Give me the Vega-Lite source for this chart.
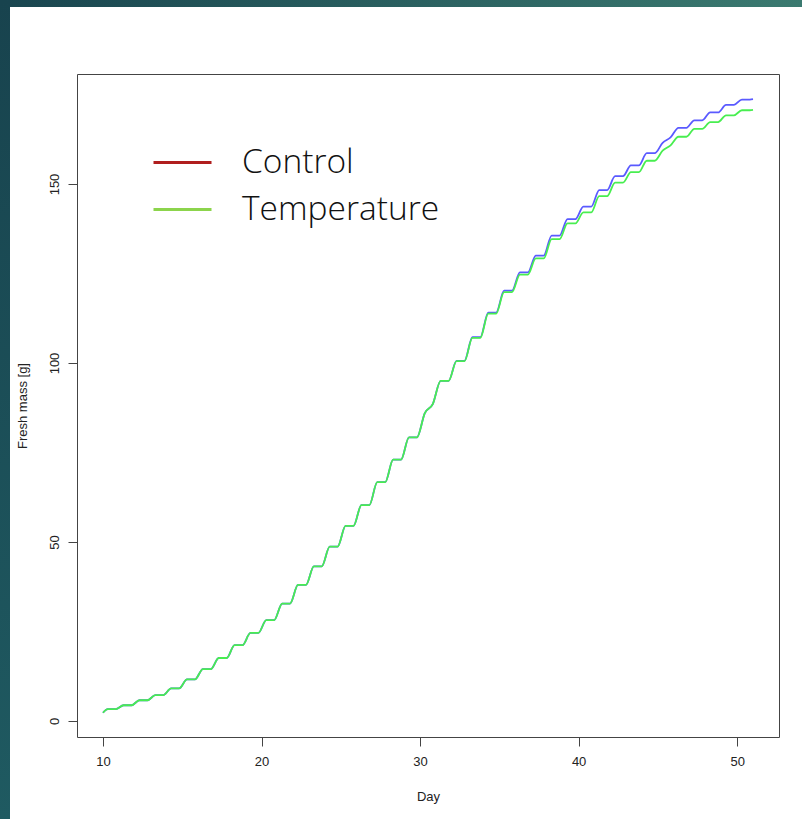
{
  "$schema": "https://vega.github.io/schema/vega-lite/v6.json",
  "width": 702,
  "height": 663,
  "autosize": {"type": "none"},
  "padding": {"left": 77, "top": 74, "right": 23, "bottom": 82},
  "background": "white",
  "config": {
    "view": {"stroke": "#444444", "strokeWidth": 1},
    "axis": {
      "grid": false,
      "domain": false,
      "tickColor": "#444444",
      "tickSize": 9,
      "labelFont": "Liberation Sans",
      "labelFontSize": 13,
      "labelColor": "#222222",
      "titleFont": "Liberation Sans",
      "titleFontSize": 13,
      "titleFontWeight": "normal",
      "titleColor": "#222222"
    }
  },
  "datasets": {
    "growth": [
      {"day": 10.0, "mass": 2.3, "series": "Control"},
      {"day": 10.3, "mass": 3.3, "series": "Control"},
      {"day": 10.8, "mass": 3.3, "series": "Control"},
      {"day": 11.3, "mass": 4.4, "series": "Control"},
      {"day": 11.8, "mass": 4.4, "series": "Control"},
      {"day": 12.3, "mass": 5.8, "series": "Control"},
      {"day": 12.8, "mass": 5.8, "series": "Control"},
      {"day": 13.3, "mass": 7.2, "series": "Control"},
      {"day": 13.8, "mass": 7.2, "series": "Control"},
      {"day": 14.3, "mass": 9.1, "series": "Control"},
      {"day": 14.8, "mass": 9.1, "series": "Control"},
      {"day": 15.3, "mass": 11.6, "series": "Control"},
      {"day": 15.8, "mass": 11.6, "series": "Control"},
      {"day": 16.3, "mass": 14.5, "series": "Control"},
      {"day": 16.8, "mass": 14.5, "series": "Control"},
      {"day": 17.3, "mass": 17.6, "series": "Control"},
      {"day": 17.8, "mass": 17.6, "series": "Control"},
      {"day": 18.3, "mass": 21.2, "series": "Control"},
      {"day": 18.8, "mass": 21.2, "series": "Control"},
      {"day": 19.3, "mass": 24.6, "series": "Control"},
      {"day": 19.8, "mass": 24.6, "series": "Control"},
      {"day": 20.3, "mass": 28.2, "series": "Control"},
      {"day": 20.8, "mass": 28.2, "series": "Control"},
      {"day": 21.3, "mass": 32.8, "series": "Control"},
      {"day": 21.8, "mass": 32.8, "series": "Control"},
      {"day": 22.3, "mass": 38.0, "series": "Control"},
      {"day": 22.8, "mass": 38.0, "series": "Control"},
      {"day": 23.3, "mass": 43.2, "series": "Control"},
      {"day": 23.8, "mass": 43.2, "series": "Control"},
      {"day": 24.3, "mass": 48.7, "series": "Control"},
      {"day": 24.8, "mass": 48.7, "series": "Control"},
      {"day": 25.3, "mass": 54.5, "series": "Control"},
      {"day": 25.8, "mass": 54.5, "series": "Control"},
      {"day": 26.3, "mass": 60.3, "series": "Control"},
      {"day": 26.8, "mass": 60.3, "series": "Control"},
      {"day": 27.3, "mass": 66.7, "series": "Control"},
      {"day": 27.8, "mass": 66.7, "series": "Control"},
      {"day": 28.3, "mass": 73.0, "series": "Control"},
      {"day": 28.8, "mass": 73.0, "series": "Control"},
      {"day": 29.3, "mass": 79.2, "series": "Control"},
      {"day": 29.8, "mass": 79.2, "series": "Control"},
      {"day": 30.3, "mass": 86.0, "series": "Control"},
      {"day": 30.8, "mass": 88.5, "series": "Control"},
      {"day": 31.3, "mass": 95.0, "series": "Control"},
      {"day": 31.8, "mass": 95.0, "series": "Control"},
      {"day": 32.3, "mass": 100.6, "series": "Control"},
      {"day": 32.8, "mass": 100.6, "series": "Control"},
      {"day": 33.3, "mass": 107.2, "series": "Control"},
      {"day": 33.8, "mass": 107.2, "series": "Control"},
      {"day": 34.3, "mass": 114.1, "series": "Control"},
      {"day": 34.8, "mass": 114.1, "series": "Control"},
      {"day": 35.3, "mass": 120.2, "series": "Control"},
      {"day": 35.8, "mass": 120.2, "series": "Control"},
      {"day": 36.3, "mass": 125.3, "series": "Control"},
      {"day": 36.8, "mass": 125.3, "series": "Control"},
      {"day": 37.3, "mass": 130.0, "series": "Control"},
      {"day": 37.8, "mass": 130.0, "series": "Control"},
      {"day": 38.3, "mass": 135.6, "series": "Control"},
      {"day": 38.8, "mass": 135.6, "series": "Control"},
      {"day": 39.3, "mass": 140.2, "series": "Control"},
      {"day": 39.8, "mass": 140.2, "series": "Control"},
      {"day": 40.3, "mass": 143.7, "series": "Control"},
      {"day": 40.8, "mass": 143.7, "series": "Control"},
      {"day": 41.3, "mass": 148.3, "series": "Control"},
      {"day": 41.8, "mass": 148.3, "series": "Control"},
      {"day": 42.3, "mass": 152.2, "series": "Control"},
      {"day": 42.8, "mass": 152.2, "series": "Control"},
      {"day": 43.3, "mass": 155.2, "series": "Control"},
      {"day": 43.8, "mass": 155.2, "series": "Control"},
      {"day": 44.3, "mass": 158.6, "series": "Control"},
      {"day": 44.8, "mass": 158.6, "series": "Control"},
      {"day": 45.3, "mass": 161.5, "series": "Control"},
      {"day": 45.8, "mass": 163.0, "series": "Control"},
      {"day": 46.3, "mass": 165.7, "series": "Control"},
      {"day": 46.8, "mass": 165.7, "series": "Control"},
      {"day": 47.3, "mass": 167.8, "series": "Control"},
      {"day": 47.8, "mass": 167.8, "series": "Control"},
      {"day": 48.3, "mass": 170.0, "series": "Control"},
      {"day": 48.8, "mass": 170.0, "series": "Control"},
      {"day": 49.3, "mass": 172.1, "series": "Control"},
      {"day": 49.8, "mass": 172.1, "series": "Control"},
      {"day": 50.3, "mass": 173.6, "series": "Control"},
      {"day": 50.8, "mass": 173.6, "series": "Control"},
      {"day": 51.0, "mass": 173.7, "series": "Control"},
      {"day": 10.0, "mass": 2.3, "series": "Temperature"},
      {"day": 10.3, "mass": 3.3, "series": "Temperature"},
      {"day": 10.8, "mass": 3.3, "series": "Temperature"},
      {"day": 11.3, "mass": 4.4, "series": "Temperature"},
      {"day": 11.8, "mass": 4.4, "series": "Temperature"},
      {"day": 12.3, "mass": 5.8, "series": "Temperature"},
      {"day": 12.8, "mass": 5.8, "series": "Temperature"},
      {"day": 13.3, "mass": 7.2, "series": "Temperature"},
      {"day": 13.8, "mass": 7.2, "series": "Temperature"},
      {"day": 14.3, "mass": 9.1, "series": "Temperature"},
      {"day": 14.8, "mass": 9.1, "series": "Temperature"},
      {"day": 15.3, "mass": 11.6, "series": "Temperature"},
      {"day": 15.8, "mass": 11.6, "series": "Temperature"},
      {"day": 16.3, "mass": 14.5, "series": "Temperature"},
      {"day": 16.8, "mass": 14.5, "series": "Temperature"},
      {"day": 17.3, "mass": 17.6, "series": "Temperature"},
      {"day": 17.8, "mass": 17.6, "series": "Temperature"},
      {"day": 18.3, "mass": 21.2, "series": "Temperature"},
      {"day": 18.8, "mass": 21.2, "series": "Temperature"},
      {"day": 19.3, "mass": 24.6, "series": "Temperature"},
      {"day": 19.8, "mass": 24.6, "series": "Temperature"},
      {"day": 20.3, "mass": 28.2, "series": "Temperature"},
      {"day": 20.8, "mass": 28.2, "series": "Temperature"},
      {"day": 21.3, "mass": 32.8, "series": "Temperature"},
      {"day": 21.8, "mass": 32.8, "series": "Temperature"},
      {"day": 22.3, "mass": 38.0, "series": "Temperature"},
      {"day": 22.8, "mass": 38.0, "series": "Temperature"},
      {"day": 23.3, "mass": 43.2, "series": "Temperature"},
      {"day": 23.8, "mass": 43.2, "series": "Temperature"},
      {"day": 24.3, "mass": 48.7, "series": "Temperature"},
      {"day": 24.8, "mass": 48.7, "series": "Temperature"},
      {"day": 25.3, "mass": 54.5, "series": "Temperature"},
      {"day": 25.8, "mass": 54.5, "series": "Temperature"},
      {"day": 26.3, "mass": 60.3, "series": "Temperature"},
      {"day": 26.8, "mass": 60.3, "series": "Temperature"},
      {"day": 27.3, "mass": 66.7, "series": "Temperature"},
      {"day": 27.8, "mass": 66.7, "series": "Temperature"},
      {"day": 28.3, "mass": 73.0, "series": "Temperature"},
      {"day": 28.8, "mass": 73.0, "series": "Temperature"},
      {"day": 29.3, "mass": 79.2, "series": "Temperature"},
      {"day": 29.8, "mass": 79.2, "series": "Temperature"},
      {"day": 30.3, "mass": 86.0, "series": "Temperature"},
      {"day": 30.8, "mass": 88.5, "series": "Temperature"},
      {"day": 31.3, "mass": 95.0, "series": "Temperature"},
      {"day": 31.8, "mass": 95.0, "series": "Temperature"},
      {"day": 32.3, "mass": 100.5, "series": "Temperature"},
      {"day": 32.8, "mass": 100.5, "series": "Temperature"},
      {"day": 33.3, "mass": 107.0, "series": "Temperature"},
      {"day": 33.8, "mass": 107.0, "series": "Temperature"},
      {"day": 34.3, "mass": 113.8, "series": "Temperature"},
      {"day": 34.8, "mass": 113.8, "series": "Temperature"},
      {"day": 35.3, "mass": 119.8, "series": "Temperature"},
      {"day": 35.8, "mass": 119.8, "series": "Temperature"},
      {"day": 36.3, "mass": 124.7, "series": "Temperature"},
      {"day": 36.8, "mass": 124.7, "series": "Temperature"},
      {"day": 37.3, "mass": 129.2, "series": "Temperature"},
      {"day": 37.8, "mass": 129.2, "series": "Temperature"},
      {"day": 38.3, "mass": 134.6, "series": "Temperature"},
      {"day": 38.8, "mass": 134.6, "series": "Temperature"},
      {"day": 39.3, "mass": 139.0, "series": "Temperature"},
      {"day": 39.8, "mass": 139.0, "series": "Temperature"},
      {"day": 40.3, "mass": 142.1, "series": "Temperature"},
      {"day": 40.8, "mass": 142.1, "series": "Temperature"},
      {"day": 41.3, "mass": 146.6, "series": "Temperature"},
      {"day": 41.8, "mass": 146.6, "series": "Temperature"},
      {"day": 42.3, "mass": 150.4, "series": "Temperature"},
      {"day": 42.8, "mass": 150.4, "series": "Temperature"},
      {"day": 43.3, "mass": 153.3, "series": "Temperature"},
      {"day": 43.8, "mass": 153.3, "series": "Temperature"},
      {"day": 44.3, "mass": 156.5, "series": "Temperature"},
      {"day": 44.8, "mass": 156.5, "series": "Temperature"},
      {"day": 45.3, "mass": 159.3, "series": "Temperature"},
      {"day": 45.8, "mass": 160.8, "series": "Temperature"},
      {"day": 46.3, "mass": 163.2, "series": "Temperature"},
      {"day": 46.8, "mass": 163.2, "series": "Temperature"},
      {"day": 47.3, "mass": 165.4, "series": "Temperature"},
      {"day": 47.8, "mass": 165.4, "series": "Temperature"},
      {"day": 48.3, "mass": 167.3, "series": "Temperature"},
      {"day": 48.8, "mass": 167.3, "series": "Temperature"},
      {"day": 49.3, "mass": 169.2, "series": "Temperature"},
      {"day": 49.8, "mass": 169.2, "series": "Temperature"},
      {"day": 50.3, "mass": 170.6, "series": "Temperature"},
      {"day": 50.8, "mass": 170.6, "series": "Temperature"},
      {"day": 51.0, "mass": 170.7, "series": "Temperature"}
    ]
  },
  "layer": [
    {
      "data": {"name": "growth"},
      "transform": [{"filter": "datum.series === 'Control'"}],
      "mark": {"type": "line", "strokeWidth": 1.8, "interpolate": "monotone", "clip": true, "color": "#5a5aff"},
      "encoding": {
        "x": {
          "field": "day", "type": "quantitative",
          "scale": {"domain": [8.36, 52.64], "nice": false, "zero": false},
          "axis": {"title": "Day", "values": [10, 20, 30, 40, 50], "labelPadding": 9, "titlePadding": 22}
        },
        "y": {
          "field": "mass", "type": "quantitative",
          "scale": {"domain": [-4.47, 180.73], "nice": false, "zero": false},
          "axis": {"title": "Fresh mass [g]", "values": [0, 50, 100, 150], "labelAngle": -90, "labelAlign": "center", "labelBaseline": "bottom", "labelPadding": 7, "titlePadding": 19}
        }
      }
    },
    {
      "data": {"name": "growth"},
      "transform": [{"filter": "datum.series === 'Temperature'"}],
      "mark": {"type": "line", "strokeWidth": 1.8, "interpolate": "monotone", "clip": true, "color": "#48ee50"},
      "encoding": {
        "x": {"field": "day", "type": "quantitative"},
        "y": {"field": "mass", "type": "quantitative"}
      }
    },
    {
      "data": {"name": "growth"},
      "mark": {"type": "point", "opacity": 0},
      "encoding": {
        "x": {"field": "day", "type": "quantitative"},
        "y": {"field": "mass", "type": "quantitative"},
        "stroke": {
          "field": "series", "type": "nominal",
          "scale": {"domain": ["Control", "Temperature"], "range": ["#b01e1e", "#8cd44c"]},
          "legend": {
            "title": null,
            "orient": "none",
            "legendX": 75,
            "legendY": 58,
            "padding": 0,
            "direction": "vertical",
            "symbolType": "stroke",
            "symbolSize": 3364,
            "symbolStrokeWidth": 3,
            "symbolOpacity": 1,
            "labelFont": "Open Sans",
            "labelFontSize": 33.5,
            "labelFontWeight": 300,
            "labelColor": "#111111",
            "labelOffset": 29,
            "rowPadding": -17,
            "labelLimit": 400
          }
        }
      }
    },
    {
      "data": {"values": [{}]},
      "mark": {"type": "rect", "clip": false, "fill": {"gradient": "linear", "x1": 0, "y1": 0, "x2": 1, "y2": 0, "stops": [{"offset": 0, "color": "#19454f"}, {"offset": 1, "color": "#3b7a70"}]}},
      "encoding": {
        "x": {"datum": 3.5, "type": "quantitative"},
        "x2": {"datum": 54.1},
        "y": {"datum": 199.45, "type": "quantitative"},
        "y2": {"datum": 201.5}
      }
    },
    {
      "data": {"values": [{}]},
      "mark": {"type": "rect", "clip": false, "fill": {"gradient": "linear", "x1": 0, "y1": 0, "x2": 0, "y2": 1, "stops": [{"offset": 0, "color": "#18434e"}, {"offset": 1, "color": "#1f5a61"}]}},
      "encoding": {
        "x": {"datum": 3.5, "type": "quantitative"},
        "x2": {"datum": 4.134},
        "y": {"datum": -27.5, "type": "quantitative"},
        "y2": {"datum": 201.5}
      }
    }
  ]
}
